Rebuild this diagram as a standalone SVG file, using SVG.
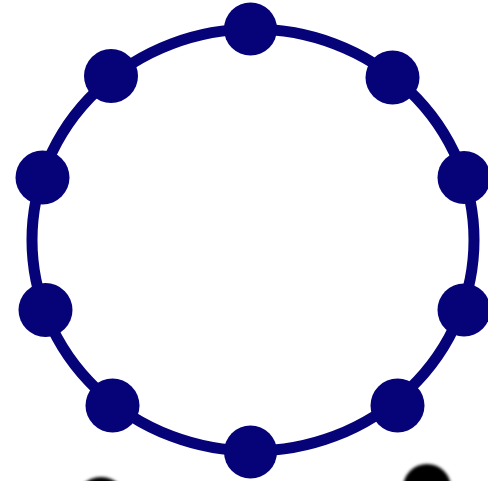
<svg xmlns="http://www.w3.org/2000/svg" width="488" height="481" viewBox="0 0 488 481">
<defs>
<style>
.ring{fill:none;stroke:#060378;stroke-width:11}
.node{fill:#060378}
.blob{fill:#000;filter:url(#blur)}
</style>
<filter id="blur" x="-20%" y="-20%" width="140%" height="140%"><feGaussianBlur stdDeviation="1.5"/></filter>
</defs>
<rect width="488" height="481" fill="#fff"/>
<g id="connectors">
<ellipse class="ring" cx="253" cy="240" rx="221" ry="211"/>
</g>
<g id="n1"><circle class="node" cx="250.5" cy="29" r="26.5"/></g>
<g id="n2"><circle class="node" cx="392.5" cy="77.5" r="27"/></g>
<g id="n3"><circle class="node" cx="464" cy="177.5" r="26.5"/></g>
<g id="n4"><circle class="node" cx="464" cy="310" r="26.5"/></g>
<g id="n5"><circle class="node" cx="397.5" cy="405.5" r="27"/></g>
<g id="n6"><circle class="node" cx="250.5" cy="452" r="26.5"/></g>
<g id="n7"><circle class="node" cx="112.5" cy="405.5" r="27"/></g>
<g id="n8"><circle class="node" cx="45.5" cy="310" r="27"/></g>
<g id="n9"><circle class="node" cx="42.5" cy="177.5" r="27"/></g>
<g id="n10"><circle class="node" cx="111" cy="76" r="27"/></g>
<g id="blobs">
<circle class="blob" cx="101" cy="503.5" r="26.5"/>
<circle class="blob" cx="427" cy="488" r="24"/>
</g>
</svg>
